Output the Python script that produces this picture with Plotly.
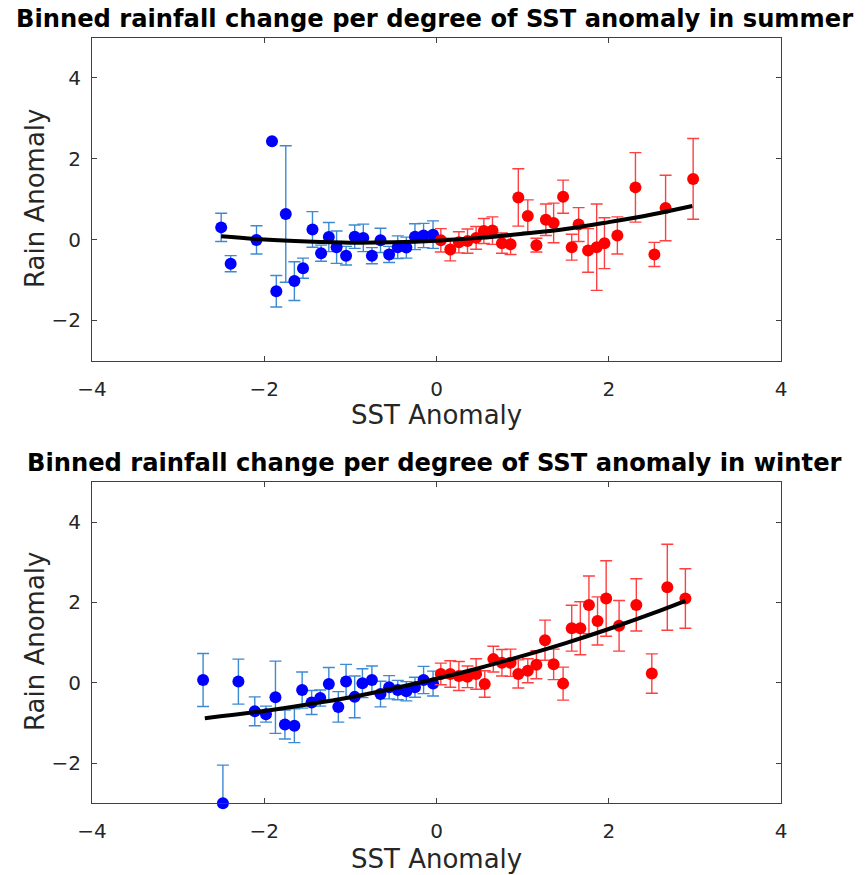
import plotly.graph_objects as go

# ---------------- Summer ----------------
summer_cold_x = [-2.50, -2.39, -2.09, -1.91, -1.86, -1.75, -1.65, -1.55, -1.44, -1.34, -1.25, -1.16,
                 -1.05, -0.95, -0.85, -0.75, -0.65, -0.55, -0.45, -0.35, -0.25, -0.15, -0.04]
summer_cold_y = [0.30, -0.60, -0.01, 2.43, -1.28, 0.63, -1.03, -0.71, 0.25, -0.34, 0.06, -0.19,
                 -0.40, 0.07, 0.04, -0.40, -0.02, -0.37, -0.19, -0.20, 0.07, 0.10, 0.12]
summer_cold_err = [0.35, 0.20, 0.35, 0.00, 0.39, 1.69, 0.48, 0.25, 0.44, 0.20, 0.36, 0.40,
                   0.23, 0.29, 0.34, 0.20, 0.30, 0.20, 0.28, 0.26, 0.32, 0.30, 0.34]

summer_warm_x = [0.05, 0.16, 0.26, 0.36, 0.46, 0.55, 0.65, 0.76, 0.86, 0.95, 1.06, 1.16, 1.27,
                 1.36, 1.47, 1.57, 1.65, 1.76, 1.86, 1.95, 2.10, 2.31, 2.53, 2.66, 2.98]
summer_warm_y = [-0.02, -0.25, -0.07, -0.04, 0.04, 0.21, 0.22, -0.09, -0.12, 1.04, 0.58, -0.14, 0.49,
                 0.41, 1.06, -0.19, 0.37, -0.27, -0.19, -0.09, 0.10, 1.29, -0.37, 0.78, 1.50]
summer_warm_err = [0.29, 0.28, 0.26, 0.30, 0.28, 0.31, 0.34, 0.25, 0.25, 0.71, 0.40, 0.17, 0.39,
                   0.49, 0.41, 0.32, 0.42, 0.54, 1.07, 0.63, 0.46, 0.86, 0.30, 0.81, 1.00]

summer_fit_x = [-2.5, -2.0, -1.5, -1.0, -0.5, 0.0, 0.5, 1.0, 1.5, 2.0, 2.5, 2.97]
summer_fit_y = [0.08, 0.00, -0.05, -0.08, -0.07, -0.03, 0.04, 0.14, 0.26, 0.43, 0.62, 0.83]

# ---------------- Winter ----------------
winter_cold_x = [-2.71, -2.48, -2.30, -2.11, -1.98, -1.87, -1.76, -1.65, -1.56, -1.45, -1.35, -1.25,
                 -1.14, -1.05, -0.95, -0.86, -0.75, -0.65, -0.55, -0.45, -0.35, -0.25, -0.15, -0.04]
winter_cold_y = [0.07, -3.00, 0.03, -0.71, -0.78, -0.36, -1.04, -1.07, -0.18, -0.49, -0.38, -0.03,
                 -0.60, 0.03, -0.35, -0.01, 0.07, -0.28, -0.11, -0.18, -0.21, -0.11, 0.07, -0.02]
winter_cold_err_up = [0.66, 0.95, 0.56, 0.36, 0.20, 0.90, 0.36, 0.42, 0.45, 0.30, 0.20, 0.41,
                      0.38, 0.43, 0.52, 0.36, 0.35, 0.32, 0.29, 0.24, 0.24, 0.25, 0.34, 0.31]
winter_cold_err_down = [0.66, 0.00, 0.56, 0.36, 0.20, 0.90, 0.36, 0.42, 0.45, 0.30, 0.20, 0.41,
                        0.38, 0.43, 0.52, 0.36, 0.35, 0.32, 0.29, 0.24, 0.24, 0.25, 0.34, 0.31]

winter_warm_x = [0.05, 0.16, 0.26, 0.36, 0.46, 0.56, 0.66, 0.76, 0.86, 0.95, 1.06, 1.16, 1.26,
                 1.36, 1.47, 1.57, 1.67, 1.77, 1.87, 1.97, 2.12, 2.32, 2.50, 2.68, 2.89]
winter_warm_y = [0.22, 0.22, 0.17, 0.15, 0.22, -0.03, 0.59, 0.50, 0.50, 0.22, 0.30, 0.45, 1.06,
                 0.46, -0.02, 1.36, 1.36, 1.94, 1.54, 2.10, 1.42, 1.94, 0.23, 2.38, 2.10]
winter_warm_err = [0.27, 0.33, 0.36, 0.27, 0.38, 0.33, 0.32, 0.33, 0.34, 0.35, 0.30, 0.35, 0.50,
                   0.38, 0.41, 0.57, 0.66, 0.72, 0.60, 0.94, 0.63, 0.65, 0.49, 1.07, 0.74]

winter_fit_x = [-2.69, -2.0, -1.5, -1.0, -0.5, 0.0, 0.5, 1.0, 1.5, 2.0, 2.5, 2.89]
winter_fit_y = [-0.88, -0.70, -0.54, -0.36, -0.14, 0.10, 0.37, 0.67, 0.99, 1.34, 1.72, 2.04]

titles = ["Binned rainfall change per degree of SST anomaly in summer",
          "Binned rainfall change per degree of SST anomaly in winter"]
x_label = "SST Anomaly"
y_label = "Rain Anomaly"
x_ticks = [-4, -2, 0, 2, 4]
y_ticks = [-2, 0, 2, 4]

BLUE = "#0000FF"
RED = "#FF0000"
BLUE_ERR = "#3C8AD2"
RED_ERR = "#FF4040"

fig = go.Figure()


def add_panel(xa, ya, cx, cy, cup, cdown, wx, wy, wup, wdown, fx, fy):
    fig.add_trace(go.Scatter(
        x=cx, y=cy, mode="markers", xaxis=xa, yaxis=ya, cliponaxis=False,
        marker=dict(color=BLUE, size=12, line=dict(width=0)),
        error_y=dict(type="data", symmetric=False, array=cup, arrayminus=cdown,
                     color=BLUE_ERR, thickness=1.4, width=6),
        showlegend=False))
    fig.add_trace(go.Scatter(
        x=wx, y=wy, mode="markers", xaxis=xa, yaxis=ya, cliponaxis=False,
        marker=dict(color=RED, size=12, line=dict(width=0)),
        error_y=dict(type="data", symmetric=False, array=wup, arrayminus=wdown,
                     color=RED_ERR, thickness=1.4, width=6),
        showlegend=False))
    fig.add_trace(go.Scatter(
        x=fx, y=fy, mode="lines", xaxis=xa, yaxis=ya,
        line=dict(color="black", width=4, shape="spline"),
        showlegend=False))


add_panel("x", "y", summer_cold_x, summer_cold_y, summer_cold_err, summer_cold_err,
          summer_warm_x, summer_warm_y, summer_warm_err, summer_warm_err,
          summer_fit_x, summer_fit_y)
add_panel("x2", "y2", winter_cold_x, winter_cold_y, winter_cold_err_up, winter_cold_err_down,
          winter_warm_x, winter_warm_y, winter_warm_err, winter_warm_err,
          winter_fit_x, winter_fit_y)

W, H = 866, 875
AXC = "#404040"
TXT = "#262626"
tickfont = dict(family="DejaVu Sans", size=20, color=TXT)
labfont = dict(family="DejaVu Sans", size=26, color=TXT)
titlefont = dict(family="DejaVu Sans", size=24.2, color="black")

xd = [92 / W, 781 / W]
top_dom = [1 - 360.7 / H, 1 - 37.5 / H]
bot_dom = [1 - 803.3 / H, 1 - 482 / H]


def xaxis(anchor):
    return dict(domain=xd, anchor=anchor, range=[-4, 4], tickvals=x_ticks,
                ticks="inside", ticklen=5, tickcolor=AXC, mirror="ticks",
                showline=True, linecolor=AXC, linewidth=1.2, showgrid=False,
                zeroline=False, tickfont=tickfont, ticklabelstandoff=10,
                automargin=False)


def yaxis(anchor, dom):
    return dict(domain=dom, anchor=anchor, range=[-3, 5], tickvals=y_ticks,
                ticks="inside", ticklen=5, tickcolor=AXC, mirror="ticks",
                showline=True, linecolor=AXC, linewidth=1.2, showgrid=False,
                zeroline=False, tickfont=tickfont, ticklabelstandoff=6,
                automargin=False)


def ann(text, x, y, font, angle=0):
    return dict(text=text, x=x / W, y=1 - y / H, xref="paper", yref="paper",
                xanchor="center", yanchor="middle", showarrow=False,
                textangle=angle, font=font)


fig.update_layout(
    width=W, height=H, margin=dict(l=0, r=0, t=0, b=0),
    paper_bgcolor="white", plot_bgcolor="white",
    xaxis=xaxis("y"), yaxis=yaxis("x", top_dom),
    xaxis2=xaxis("y2"), yaxis2=yaxis("x2", bot_dom),
    annotations=[
        ann("<b>%s</b>" % titles[0], 434, 19, titlefont),
        ann("<b>%s</b>" % titles[1], 434, 463, titlefont),
        ann(x_label, 436, 415, labfont),
        ann(x_label, 436, 859, labfont),
        ann(y_label, 35, 199, labfont, -90),
        ann(y_label, 35, 642, labfont, -90),
    ],
)

fig.write_html("out.html")
